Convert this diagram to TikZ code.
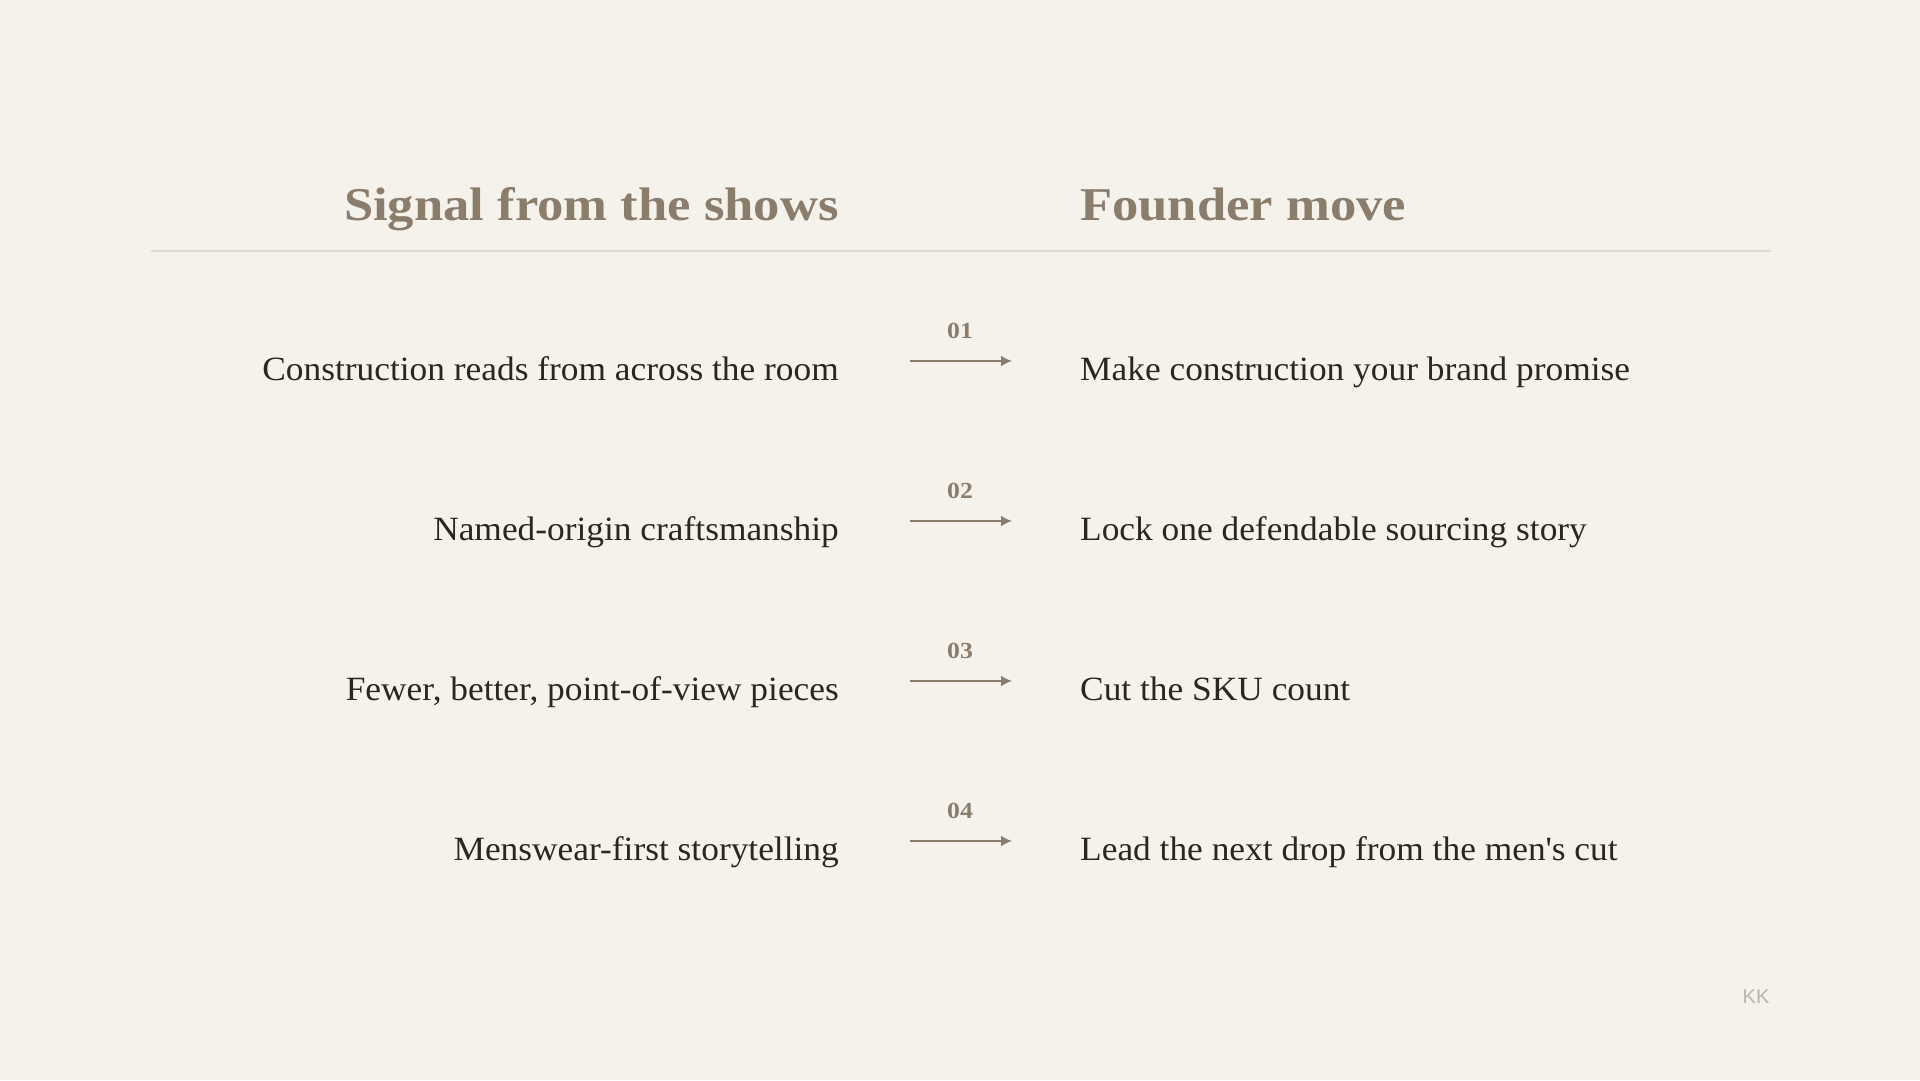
\documentclass[tikz,border=0pt]{standalone}
\usepackage{fontspec}
\setmainfont{Liberation Serif}
\newfontfamily\headfont[FakeStretch=1.12]{Liberation Serif}
\newfontfamily\bodyfont[FakeStretch=1.04]{Liberation Serif}
\newfontfamily\kksans{Liberation Sans}
\usetikzlibrary{arrows.meta}
\definecolor{bg}{HTML}{F5F2EC}
\definecolor{head}{HTML}{8B7D6B}
\definecolor{body}{HTML}{2A2622}
\definecolor{rule}{HTML}{DEDAD3}
\definecolor{mark}{HTML}{B9B4AD}
\tikzset{
  headtxt/.style={inner sep=0pt, text=head, font=\headfont\fontsize{47}{52}\selectfont\bfseries},
  lefttxt/.style={inner sep=0pt, anchor=base east, text=body, font=\bodyfont\fontsize{34}{40}\selectfont},
  righttxt/.style={inner sep=0pt, anchor=base west, text=body, font=\bodyfont\fontsize{34}{40}\selectfont},
  numtxt/.style={inner sep=0pt, anchor=base, text=head, font=\headfont\fontsize{23}{26}\selectfont\bfseries},
  flow/.style={draw=head, line width=2pt, -{Latex[length=11pt,width=11pt]}},
}
\begin{document}
\begin{tikzpicture}[x=1pt,y=-1pt]
\useasboundingbox[fill=bg] (0,0) rectangle (1920,1080);
\node[headtxt, anchor=base east] (hl) at (839,220) {Signal from the shows};
\node[headtxt, anchor=base west] (hr) at (1080,220) {Founder move};
\coordinate (rl) at (151,251);
\coordinate (rr) at (1771,251);
\draw[rule, line width=1.5pt] (rl) -- (rr);
\foreach \i/\l/\r [count=\k from 0] in {01/Construction reads from across the room/Make construction your brand promise,
  02/Named-origin craftsmanship/Lock one defendable sourcing story,
  03/{Fewer, better, point-of-view pieces}/Cut the SKU count,
  04/Menswear-first storytelling/Lead the next drop from the men\textquotesingle s cut}{
  \node[lefttxt] (l\i) at (839,{380+160*\k}) {\l};
  \node[righttxt] (r\i) at (1080,{380+160*\k}) {\r};
  \node[numtxt] (n\i) at (960,{338+160*\k}) {\i};
  \coordinate (as\i) at (910,{361+160*\k});
  \coordinate (ae\i) at (1012,{361+160*\k});
  \draw[flow] (as\i) -- (ae\i);
}
\node[inner sep=0pt, text=mark, font=\kksans\fontsize{20}{24}\selectfont] (kk) at (1756,997) {KK};
\end{tikzpicture}
\end{document}
